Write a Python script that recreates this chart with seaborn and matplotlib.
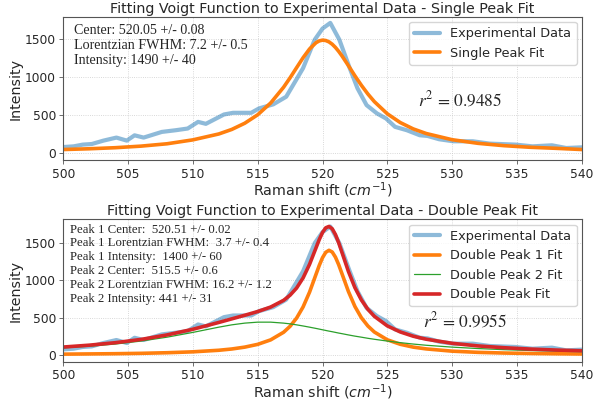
import numpy as np
import pandas as pd
import matplotlib
matplotlib.use("Agg")
import matplotlib.pyplot as plt
import seaborn as sns

# Experimental spectrum
exp_shift = [500.0, 500.8, 501.5, 502.2, 503.1, 504.1, 504.9, 505.5, 506.2, 507.6,
             508.7, 509.6, 510.4, 511.0, 512.4, 513.1, 514.5, 515.1, 516.2, 517.2,
             518.5, 519.4, 520.0, 520.6, 521.3, 522.1, 522.7, 523.4, 524.2, 524.9,
             525.6, 526.5, 527.5, 528.1, 529.0, 530.1, 531.6, 532.9, 534.9, 536.2,
             537.7, 538.8, 540.0]
exp_int = [75, 84, 107, 115, 160, 200, 160, 230, 200, 275,
           298, 320, 408, 382, 506, 528, 528, 586, 640, 741,
           1119, 1496, 1643, 1718, 1496, 1119, 852, 630, 520, 453,
           342, 298, 231, 222, 178, 151, 151, 120, 107, 84,
           98, 62, 71]

# Fit curves (values at these shifts)
fit_shift = [500, 502, 504, 506, 508, 510, 512, 513, 514, 515, 516, 517, 517.5, 518,
             518.5, 519, 519.5, 519.75, 520, 520.25, 520.5, 520.75, 521, 521.25,
             521.5, 522, 522.5, 523, 523.5, 524, 525, 526, 527, 528, 530, 532,
             534, 536, 538, 540]
single_fit = [42, 52, 66, 87, 118, 170, 248, 308, 390, 502, 658, 867, 992, 1125,
              1257, 1373, 1456, 1480, 1490, 1485, 1467, 1436, 1393, 1341,
              1282, 1152, 1018, 892, 777, 676, 515, 399, 315, 254, 172, 124,
              93, 72, 58, 42]
peak1_fit = [11, 14, 17, 22, 30, 42, 63, 80, 105, 142, 202, 304, 384, 493,
             642, 840, 1079, 1198, 1301, 1373, 1400, 1377, 1308, 1207,
             1088, 849, 649, 498, 388, 307, 203, 143, 105, 81, 51, 35,
             26, 20, 16, 13]
peak2_fit = [95, 117, 146, 186, 238, 302, 372, 403, 426, 439, 439, 426, 416, 403,
             388, 372, 355, 346, 337, 328, 319, 311, 302, 293,
             285, 268, 252, 238, 223, 210, 186, 165, 146, 130, 105, 86,
             71, 60, 51, 44]
double_fit = [106, 131, 164, 208, 268, 344, 435, 483, 531, 581, 641, 731, 800, 895,
              1030, 1212, 1433, 1544, 1638, 1701, 1719, 1688, 1610, 1500,
              1373, 1117, 901, 736, 611, 517, 389, 308, 251, 211, 156, 121,
              97, 79, 66, 56]

single_text = "Center: 520.05 +/- 0.08\nLorentzian FWHM: 7.2 +/- 0.5\nIntensity: 1490 +/- 40"
double_text = ("Peak 1 Center:  520.51 +/- 0.02\nPeak 1 Lorentzian FWHM:  3.7 +/- 0.4\n"
               "Peak 1 Intensity:  1400 +/- 60\nPeak 2 Center:  515.5 +/- 0.6\n"
               "Peak 2 Lorentzian FWHM: 16.2 +/- 1.2\nPeak 2 Intensity: 441 +/- 31")
r2_single = "$r^2$ = 0.9485"
r2_double = "$r^2$ = 0.9955"

sns.set_style("ticks")
plt.rcParams['font.family'] = ['DejaVu Sans']

fig = plt.figure(figsize=(5.93, 4.01), dpi=100)
ax1 = fig.add_axes([0.1067, 0.5998, 0.8743, 0.3585])
ax2 = fig.add_axes([0.1067, 0.098, 0.8743, 0.355])

BLUE = "#1f77b4"
ORANGE = "#ff7f0e"
GREEN = "#2ca02c"
RED = "#d62728"

exp_df = pd.DataFrame({"x": exp_shift, "y": exp_int})
fit_df = pd.DataFrame({"x": fit_shift, "single": single_fit, "p1": peak1_fit,
                       "p2": peak2_fit, "dbl": double_fit})

# Top panel
sns.lineplot(data=exp_df, x="x", y="y", ax=ax1, color=BLUE, lw=3, alpha=0.5,
             label="Experimental Data", estimator=None, sort=False)
sns.lineplot(data=fit_df, x="x", y="single", ax=ax1, color=ORANGE, lw=2.6,
             label="Single Peak Fit", estimator=None, sort=False)

# Bottom panel
sns.lineplot(data=exp_df, x="x", y="y", ax=ax2, color=BLUE, lw=3, alpha=0.5,
             label="Experimental Data", estimator=None, sort=False)
sns.lineplot(data=fit_df, x="x", y="p1", ax=ax2, color=ORANGE, lw=2.6,
             label="Double Peak 1 Fit", estimator=None, sort=False)
sns.lineplot(data=fit_df, x="x", y="p2", ax=ax2, color=GREEN, lw=0.9,
             label="Double Peak 2 Fit", estimator=None, sort=False)
sns.lineplot(data=fit_df, x="x", y="dbl", ax=ax2, color=RED, lw=2.6,
             label="Double Peak Fit", estimator=None, sort=False)

for ax, ylim in ((ax1, (-103, 1800)), (ax2, (-90, 1814))):
    ax.set_xlim(500, 540)
    ax.set_ylim(*ylim)
    ax.set_xticks(np.arange(500, 541, 5))
    ax.set_yticks([0, 500, 1000, 1500])
    ax.grid(True, color="#cccccc", lw=0.6, ls=":")
    ax.tick_params(labelsize=8.8, length=3, width=0.6, pad=2.2, color="#555555")
    for sp in ax.spines.values():
        sp.set_color("#555555")
        sp.set_linewidth(0.8)
    ax.set_xlabel("Raman shift ($cm^{-1}$)", fontsize=10.3, labelpad=0)
    ax.set_ylabel("Intensity", fontsize=10.3, labelpad=2)
    ax.legend(loc="upper right", fontsize=9.3, framealpha=0.8, borderaxespad=0.4)

ax1.set_title("Fitting Voigt Function to Experimental Data - Single Peak Fit", fontsize=10.3, pad=3)
ax2.set_title("Fitting Voigt Function to Experimental Data - Double Peak Fit", fontsize=10.3, pad=3)

ax1.text(0.02, 0.95, single_text, transform=ax1.transAxes, va="top", ha="left",
         fontsize=10.1, family="Liberation Serif", linespacing=1.2)
ax2.text(0.013, 0.97, double_text, transform=ax2.transAxes, va="top", ha="left",
         fontsize=9.2, family="Liberation Serif", linespacing=1.2)

ax1.text(0.684, 0.42, r2_single, transform=ax1.transAxes, va="center", ha="left",
         fontsize=12.5, family="STIXGeneral", math_fontfamily="stix")
ax2.text(0.694, 0.286, r2_double, transform=ax2.transAxes, va="center", ha="left",
         fontsize=12.5, family="STIXGeneral", math_fontfamily="stix")

fig.savefig("out.png", dpi=100)
